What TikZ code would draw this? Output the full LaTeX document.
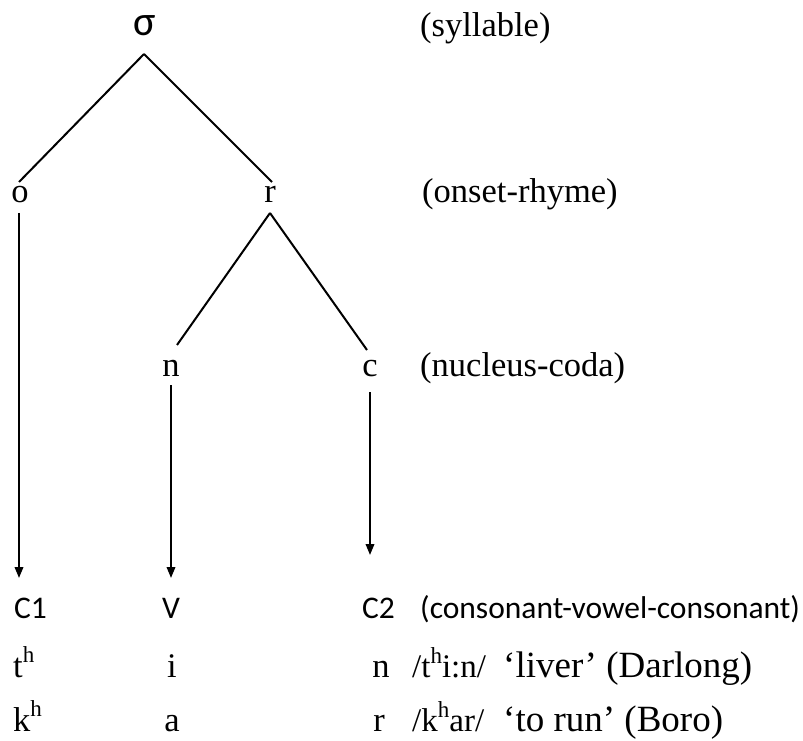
\documentclass[tikz,border=0pt]{standalone}
\usepackage{fontspec}
\setmainfont{Liberation Serif}
\newfontfamily\carl{Carlito}
\usetikzlibrary{arrows.meta}
% raised small letter for aspiration
\newcommand\asp[1]{\raisebox{0.42em}{\fontsize{23}{23}\selectfont #1}}
\tikzset{
  lbl/.style={inner sep=0pt, font=\fontsize{34.5}{40}\selectfont},
  translbl/.style={inner sep=0pt, font=\fontsize{33}{38}\selectfont},
  glosslbl/.style={inner sep=0pt, font=\fontsize{37}{42}\selectfont},
  sanslbl/.style={inner sep=0pt, font=\carl\fontsize{31.5}{38}\selectfont},
  sigma/.style={inner sep=0pt, font=\carl\fontsize{42}{46}\selectfont},
  branch/.style={line width=2pt},
  proj/.style={line width=2pt, -{Triangle[length=11pt,width=8.5pt]}}
}
\begin{document}
\begin{tikzpicture}[x=1pt,y=1pt]
\useasboundingbox[fill=white] (0,0) rectangle (803,740);

% tree nodes
\node[sigma, anchor=base] (sig) at (145,704) {σ};
\node[lbl, anchor=base] (o) at (20,537) {o};
\node[lbl, anchor=base] (r) at (270,537) {r};
\node[lbl, anchor=base] (n) at (171,363) {n};
\node[lbl, anchor=base] (c) at (370,363) {c};

% level labels
\node[lbl, anchor=base west] (l1) at (420,703) {(syllable)};
\node[lbl, anchor=base west] (l2) at (422,537) {(onset-rhyme)};
\node[lbl, anchor=base west] (l3) at (420,363) {(nucleus-coda)};

% CV tier
\node[sanslbl, anchor=base west] (c1) at (14,122) {C1};
\node[sanslbl, anchor=base] (v) at (171,122) {V};
\node[sanslbl, anchor=base west] (c2) at (362,122) {C2};
\node[sanslbl, anchor=base west] (l4) at (420,122) {(consonant-vowel-consonant)};

% examples
\node[lbl, anchor=base west] (e1a) at (13,63) {t\asp{h}};
\node[lbl, anchor=base] (e1b) at (172,63) {i};
\node[lbl, anchor=base] (e1c) at (381,63) {n};
\node[translbl, anchor=base west] (e1d) at (412,63) {/t\asp{h}i:n/};
\node[glosslbl, anchor=base west] (e1e) at (503,63) {‘liver’ (Darlong)};

\node[lbl, anchor=base west] (e2a) at (13,9) {k\asp{h}};
\node[lbl, anchor=base] (e2b) at (172,9) {a};
\node[lbl, anchor=base] (e2c) at (379,9) {r};
\node[translbl, anchor=base west] (e2d) at (412,9) {/k\asp{h}ar/};
\node[glosslbl, anchor=base west] (e2e) at (503,9) {‘to run’ (Boro)};

% branches
\draw[branch] ([xshift=-1pt,yshift=-18pt]sig.base) -- ([xshift=-1pt,yshift=21pt]o.base);
\draw[branch] ([xshift=-1pt,yshift=-18pt]sig.base) -- ([xshift=2pt,yshift=21pt]r.base);
\draw[branch] ([yshift=-10pt]r.base) -- ([xshift=6pt,yshift=32pt]n.base);
\draw[branch] ([yshift=-10pt]r.base) -- ([xshift=-3pt,yshift=27pt]c.base);

% projections to the CV tier
\draw[proj] ([xshift=-1pt,yshift=-10pt]o.base) -- ([xshift=5pt,yshift=40pt]c1.base west);
\draw[proj] ([yshift=-8pt]n.base) -- ([yshift=40pt]v.base);
\draw[proj] ([yshift=-15pt]c.base) -- ([xshift=8pt,yshift=63pt]c2.base west);
\end{tikzpicture}
\end{document}
